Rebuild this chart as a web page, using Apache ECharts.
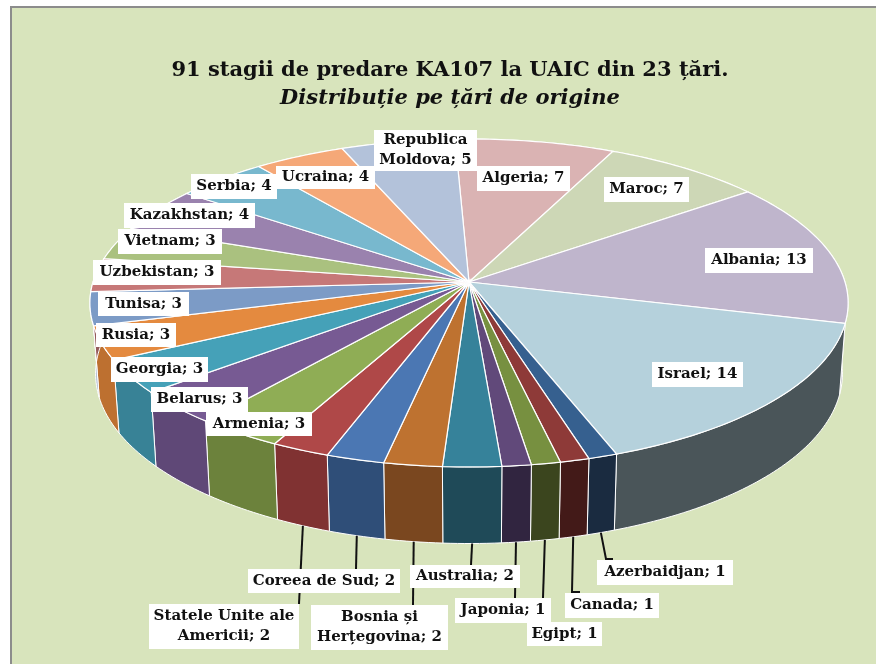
<!DOCTYPE html>
<html>
<head>
<meta charset="utf-8">
<style>html,body{margin:0;padding:0;background:#fff}#c{width:876px;height:664px}</style>
<script src="https://cdn.jsdelivr.net/npm/echarts@6/dist/echarts.min.js"></script>
</head>
<body>
<div id="c"></div>
<script>
const categories = ['Algeria','Maroc','Albania','Israel','Azerbaidjan','Canada','Egipt','Japonia','Australia','Bosnia și\nHerțegovina','Coreea de Sud','Statele Unite ale\nAmericii','Armenia','Belarus','Georgia','Rusia','Tunisa','Uzbekistan','Vietnam','Kazakhstan','Serbia','Ucraina','Republica\nMoldova'];
const values = [7,7,13,14,1,1,1,1,2,2,2,2,3,3,3,3,3,3,3,4,4,4,5];
const topColors = ['#DAB3B3','#CDD7B6','#BFB5CC','#B5D1DC','#36608F','#8E3A38','#779040','#61497A','#36829A','#BE7230','#4B77B3','#AF4848','#8FAD55','#775A93','#45A1B8','#E48A3F','#7C9BC6','#C67878','#AAC17F','#9A82AE','#78B8CE','#F5A878','#B3C2DA'];
const wallColors = ['#6E5A5A','#666C5B','#A8A6AE','#4A5559','#1A2B40','#431A18','#3B451E','#312540','#1F4A58','#7A471F','#2F4E78','#803232','#6C823C','#5F4877','#388296','#BD7030','#AEBBD2','#945A5A','#80915F','#745F83','#5A8A9B','#B87E5A','#869BA3'];
// label boxes: left, top, right, bottom
const labelBoxes = [[477,166,570,191],[604,177,689,202],[705,248,813,273],[652,362,743,387],[597,560,733,585],[565,593,659,618],[527,622,602,646],[455,598,551,623],[410,565,520,588],[311,605,448,650],[248,569,400,593],[149,604,299,649],[206,412,312,436],[151,387,248,412],[111,357,208,382],[96,323,176,347],[98,292,189,316],[93,260,221,285],[118,229,222,254],[124,203,255,228],[191,174,277,199],[276,166,375,189],[374,130,477,171]];
// leader line bends and ends, for the labels outside the pie
const leaderPaths = {4:[[606,559],[613,559]],5:[[572,592],[580,592]],6:[[543,598]],7:[[515,598]],8:[[471,565]],9:[[413,605]],10:[[356,569]],11:[[299,604]]};

const total = values.reduce((a,b)=>a+b,0);
const startDeg = -2.4;
const cx = 469, cy = 282, A = 376, B = 161.3, k = 0.128, D = 70, B2 = 167, SX = 0.985;
function angles(i){
  let s = 0; for (let j=0;j<i;j++) s += values[j];
  return [startDeg + s/total*360, startDeg + (s+values[i])/total*360];
}
function pt(deg,bottom){
  const t = deg*Math.PI/180, x = Math.sin(t), y = -Math.cos(t), w = 1-k*y;
  return bottom ? [cx+SX*A*x/w, cy+D+B2*y/w] : [cx+A*x/w, cy+B*y/w];
}
function arc(a0,a1,bottom){
  const n = Math.max(4,Math.ceil(Math.abs(a1-a0)));
  const r = [];
  for (let i=0;i<=n;i++) r.push(pt(a0+(a1-a0)*i/n,bottom));
  return r;
}
const FONT = '"DejaVu Serif",serif';

const option = {
  animation:false,
  backgroundColor:'#fff',
  graphic:[{type:'rect',z:-10,shape:{x:11,y:7,width:900,height:700},style:{fill:'#D8E4BC',stroke:'#8C8C8C',lineWidth:2},silent:true}],
  title:{
    left:445,top:52,textAlign:'center',
    text:'{a|91 stagii de predare KA107 la UAIC din 23 țări.}\n{b|Distribuție pe țări de origine}',
    textStyle:{rich:{
      a:{fontFamily:FONT,fontWeight:'bold',fontSize:21,lineHeight:28,color:'#111'},
      b:{fontFamily:FONT,fontWeight:'bold',fontStyle:'italic',fontSize:21,lineHeight:28,color:'#111'}
    }}
  },
  series:[
    {type:'custom',coordinateSystem:'none',silent:true,z:1,data:values,
     renderItem(p){
       const [a0,a1] = angles(p.dataIndex);
       const pts = arc(a0,a1,false).concat(arc(a0,a1,true).reverse());
       return {type:'polygon',shape:{points:pts},style:{fill:wallColors[p.dataIndex],stroke:'#fff',lineWidth:1}};
     }},
    {type:'custom',coordinateSystem:'none',silent:true,z:2,data:values,
     renderItem(p){
       const [a0,a1] = angles(p.dataIndex);
       const pts = [[cx,cy]].concat(arc(a0,a1,false));
       return {type:'polygon',shape:{points:pts},style:{fill:topColors[p.dataIndex],stroke:'#fff',lineWidth:1.2}};
     }},
    {type:'custom',coordinateSystem:'none',silent:true,z:3,data:values,
     renderItem(p){
       const path = leaderPaths[p.dataIndex];
       if(!path) return null;
       const [a0,a1] = angles(p.dataIndex);
       const s = pt((a0+a1)/2,true);
       return {type:'polyline',shape:{points:[s].concat(path)},style:{fill:null,stroke:'#111',lineWidth:2}};
     }},
    {type:'custom',coordinateSystem:'none',silent:true,z:4,data:values,
     renderItem(p){
       const b = labelBoxes[p.dataIndex];
       return {type:'group',children:[
         {type:'rect',shape:{x:b[0],y:b[1],width:b[2]-b[0],height:b[3]-b[1]},style:{fill:'#fff'}},
         {type:'text',style:{x:(b[0]+b[2])/2,y:(b[1]+b[3])/2,text:categories[p.dataIndex]+'; '+values[p.dataIndex],
           align:'center',verticalAlign:'middle',fontFamily:FONT,fontWeight:'bold',fontSize:15,lineHeight:20,fill:'#111'}}
       ]};
     }}
  ]
};
echarts.init(document.getElementById('c'),null,{renderer:'canvas'}).setOption(option);
</script>
</body>
</html>
